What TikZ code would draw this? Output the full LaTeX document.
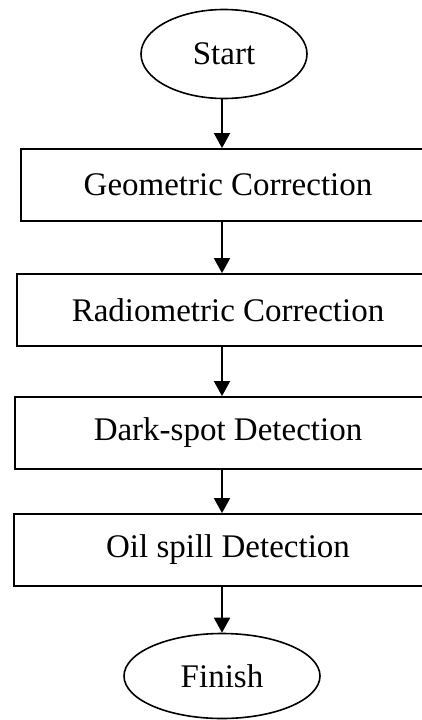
\documentclass[tikz,border=0pt]{standalone}
\usepackage{fontspec}
\setmainfont{Liberation Serif}
\usetikzlibrary{shapes.geometric,arrows.meta}

\begin{document}
\begin{tikzpicture}[x=1pt,y=-1pt,
    every node/.style={font=\fontsize{33}{40}\selectfont},
    terminal/.style={draw,ellipse,line width=1.6pt,inner sep=0pt},
    stepbox/.style={draw,rectangle,line width=1.8pt,minimum height=72pt},
    flow/.style={line width=1.8pt,-{Triangle[length=15pt,width=16pt]}}]
 \clip (0,0) rectangle (422,720);
 % start / end ellipses
 \node[terminal,minimum width=166pt,minimum height=89pt] (start) at (224,54) {Start};
 \node[terminal,minimum width=196pt,minimum height=85pt] (finish) at (222,676) {Finish};
 % processing steps
 \node[stepbox,minimum width=414pt] (geo)   at (228,185) {Geometric Correction};
 \node[stepbox,minimum width=422pt] (radio) at (228,310) {Radiometric Correction};
 \node[stepbox,minimum width=426pt] (dark)  at (228,433) {Dark-spot Detection};
 \node[stepbox,minimum width=428pt] (oil)   at (228,550) {Oil spill Detection};
 % arrows
 \draw[flow] (start.south -| 222,0) -- (geo.north -| 222,0);
 \draw[flow] (geo.south -| 222,0) -- (radio.north -| 222,0);
 \draw[flow] (radio.south -| 222,0) -- (dark.north -| 222,0);
 \draw[flow] (dark.south -| 222,0) -- (oil.north -| 222,0);
 \draw[flow] (oil.south -| 222,0) -- (finish.north);
\end{tikzpicture}
\end{document}
